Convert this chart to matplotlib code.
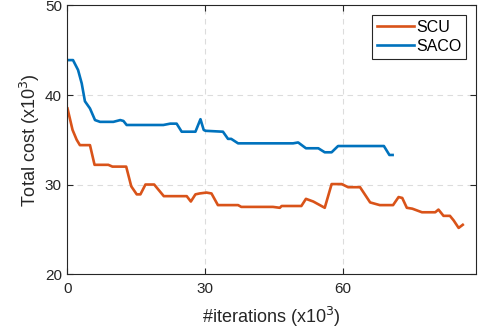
import matplotlib
matplotlib.use("Agg")
import matplotlib.pyplot as plt

# SCU curve (iterations in 10^3, total cost in 10^3)
scu_iter = [0, 1.1, 2.0, 2.7, 4.9, 5.9, 8.9, 9.8, 12.8, 13.9, 15.1, 15.9, 17.0,
            18.9, 21.0, 26.0, 26.9, 27.9, 28.8, 30.3, 31.4, 32.8, 37.2, 37.9,
            44.8, 46.3, 46.7, 51.0, 52.0, 53.6, 56.1, 57.6, 59.8, 61.2, 63.8,
            66.0, 68.1, 71.0, 72.2, 73.0, 74.0, 75.2, 77.3, 80.2, 80.9, 82.0,
            83.4, 84.2, 85.3, 86.2]
scu_cost = [38.5, 36.1, 35.0, 34.4, 34.4, 32.2, 32.2, 32.0, 32.0, 29.8, 28.9,
            28.9, 30.0, 30.0, 28.7, 28.7, 28.1, 28.9, 29.0, 29.1, 29.0, 27.7,
            27.7, 27.5, 27.5, 27.4, 27.6, 27.6, 28.4, 28.1, 27.4, 30.05, 30.05,
            29.7, 29.7, 28.0, 27.7, 27.7, 28.6, 28.5, 27.4, 27.3, 26.9, 26.9,
            27.2, 26.5, 26.5, 26.0, 25.15, 25.5]

# SACO curve
saco_iter = [0, 1.2, 2.3, 3.1, 3.8, 4.9, 6.0, 7.1, 10.0, 11.5, 12.2, 12.9, 20.9,
             22.4, 23.8, 24.9, 27.9, 29.0, 29.7, 30.1, 33.9, 35.0, 35.7, 37.2,
             49.2, 50.3, 52.0, 54.7, 56.1, 57.6, 59.0, 69.0, 70.2, 70.9]
saco_cost = [43.9, 43.9, 42.8, 41.3, 39.3, 38.5, 37.2, 37.0, 37.0, 37.2, 37.1,
             36.65, 36.65, 36.8, 36.8, 35.9, 35.9, 37.3, 36.1, 36.0, 35.9, 35.1,
             35.1, 34.6, 34.6, 34.7, 34.05, 34.05, 33.6, 33.6, 34.3, 34.3, 33.3,
             33.3]

x_ticks = [0, 30, 60]
y_ticks = [20, 30, 40, 50]

plt.rcParams['font.family'] = ['Liberation Sans', 'DejaVu Sans']

fig = plt.figure(figsize=(4.87, 3.35), dpi=100)
ax = fig.add_axes([0.1386, 0.182, 0.838, 0.8016])

ax.plot(scu_iter, scu_cost, color='#D95319', lw=1.9, label='SCU')
ax.plot(saco_iter, saco_cost, color='#0072BD', lw=1.9, label='SACO')

ax.set_xlim(0, 89)
ax.set_ylim(20, 50)
ax.set_xticks(x_ticks)
ax.set_yticks(y_ticks)
ax.grid(True, linestyle=(0, (5, 4)), color='#dcdcdc', lw=0.8)
ax.set_axisbelow(True)

ax.tick_params(direction='in', length=4, width=0.8, colors='#262626',
               labelsize=11, top=True, right=True)
ax.tick_params(axis='x', pad=6)
ax.tick_params(axis='y', pad=4)
for s in ax.spines.values():
    s.set_color('#262626')
    s.set_linewidth(0.8)

ax.set_xlabel('#iterations (x10$^3$)', fontsize=13, color='#262626', labelpad=6)
ax.set_ylabel('Total cost (x10$^3$)', fontsize=13, color='#262626', labelpad=2)

leg = ax.legend(loc='upper right', fontsize=11.5, fancybox=False,
                edgecolor='#262626', framealpha=1, handlelength=2.3,
                handletextpad=0.15, borderpad=0.3, labelspacing=0.25,
                borderaxespad=0.6)
leg.get_frame().set_linewidth(0.8)

fig.savefig('out.png', dpi=100)
